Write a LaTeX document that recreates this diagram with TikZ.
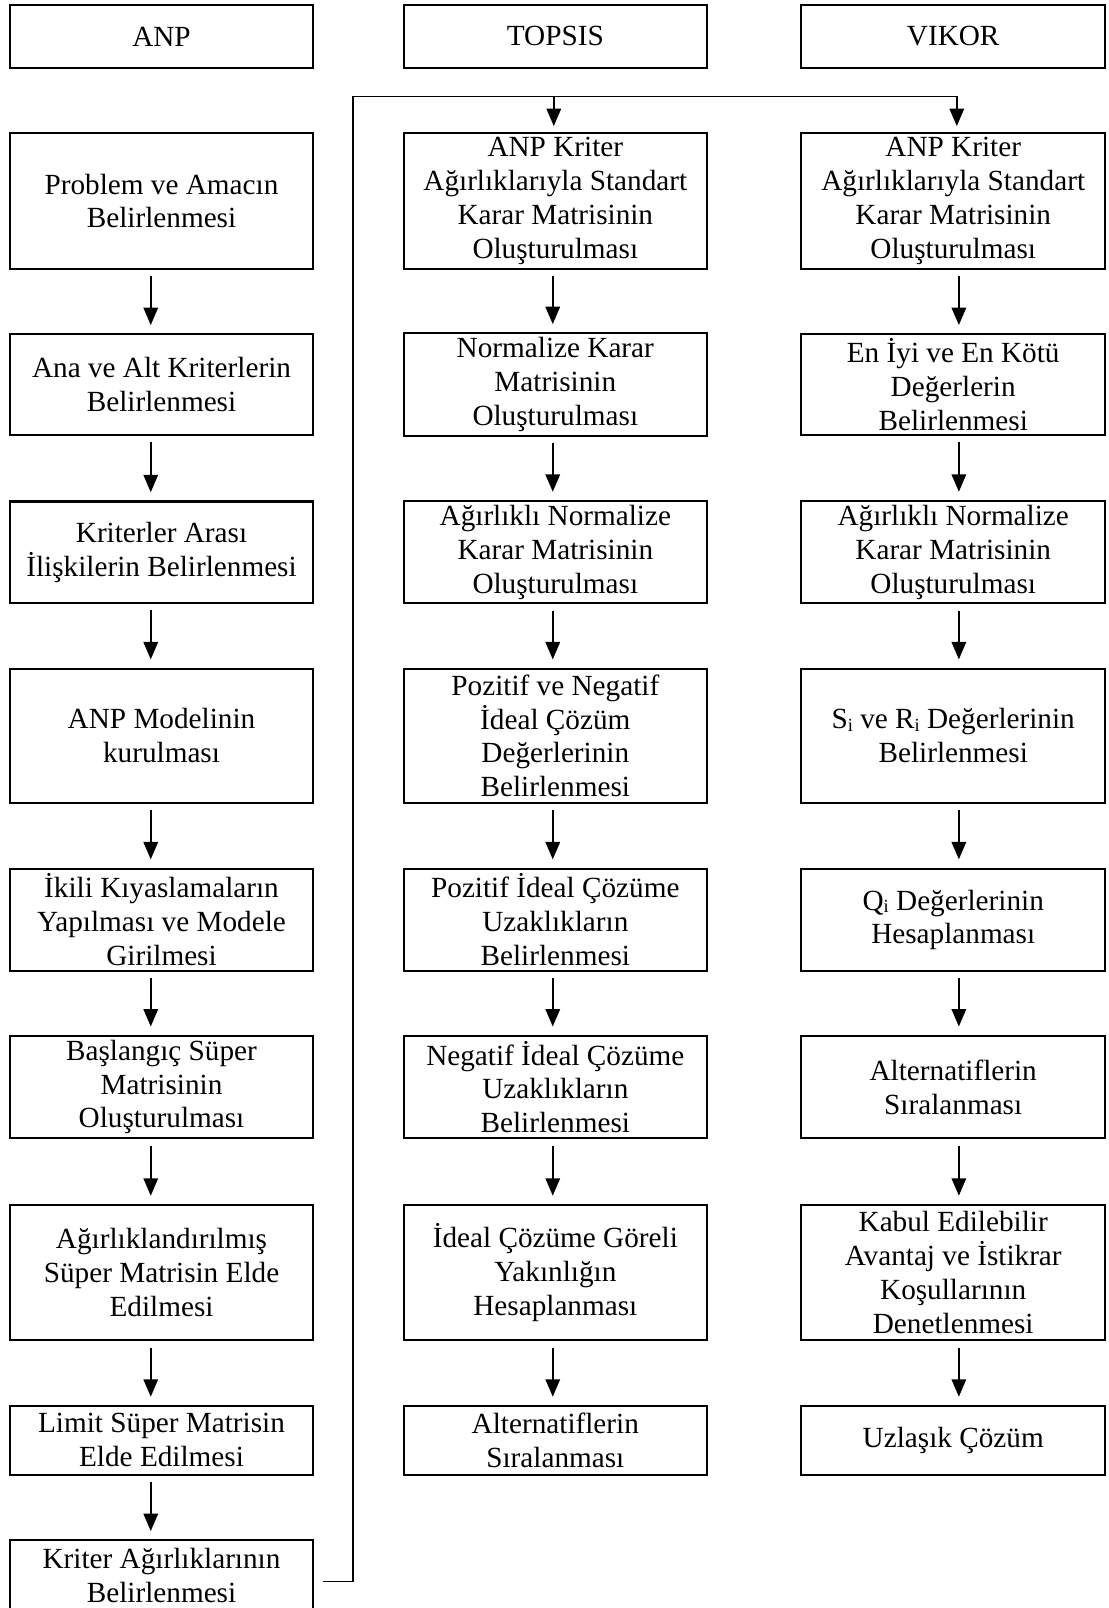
\documentclass[tikz,border=0pt]{standalone}
\usepackage{fontspec}
\setmainfont{Liberation Serif}
\usetikzlibrary{arrows.meta}
% small lowered index letter
\newcommand{\idx}[1]{\raisebox{-0.2ex}{\fontsize{9}{9}\selectfont #1}}
\begin{document}
\begin{tikzpicture}[x=0.5pt,y=-0.5pt,
  stepbox/.style={draw, line width=1pt, minimum width=148pt, inner sep=2pt,
    align=center, font=\fontsize{14.25}{16.5}\selectfont},
  arr/.style={line width=1pt, -{Triangle[length=8.5pt,width=7pt]}},
  link/.style={line width=0.8pt}]
\useasboundingbox (0,0) rectangle (1081,1568);
\clip (0,0) rectangle (1081,1568);

% column headers
\node[stepbox, minimum height=30.5pt] (hA) at (157.5,35.5) {ANP};
\node[stepbox, minimum height=30.5pt] (hT) at (541.5,35.5) {TOPSIS};
\node[stepbox, minimum height=30.5pt] (hV) at (929.5,35.5) {VIKOR};

% ANP steps
\node[stepbox, minimum height=66pt]   (a1) at (157.5,196)    {Problem ve Amacın\\Belirlenmesi};
\node[stepbox, minimum height=49pt]   (a2) at (157.5,375)    {Ana ve Alt Kriterlerin\\Belirlenmesi};
\node[stepbox, minimum height=49.5pt] (a3) at (157.5,538.5)  {Kriterler Arası\\İlişkilerin Belirlenmesi};
\node[stepbox, minimum height=65.5pt] (a4) at (157.5,717.5)  {ANP Modelinin\\kurulması};
\node[stepbox, minimum height=50pt]   (a5) at (157.5,897)    {İkili Kıyaslamaların\\Yapılması ve Modele\\Girilmesi};
\node[stepbox, minimum height=50pt]   (a6) at (157.5,1060)   {Başlangıç Süper\\Matrisinin\\Oluşturulması};
\node[stepbox, minimum height=66pt]   (a7) at (157.5,1241)   {Ağırlıklandırılmış\\Süper Matrisin Elde\\Edilmesi};
\node[stepbox, minimum height=33.5pt] (a8) at (157.5,1404.5) {Limit Süper Matrisin\\Elde Edilmesi};
\node[stepbox, minimum height=34.5pt] (a9) at (157.5,1536.5) {Kriter Ağırlıklarının\\Belirlenmesi};

% TOPSIS steps
\node[stepbox, minimum height=66pt]   (t1) at (541.5,196)    {ANP Kriter\\Ağırlıklarıyla Standart\\Karar Matrisinin\\Oluşturulması};
\node[stepbox, minimum height=49pt]   (t2) at (541.5,375)    {Normalize Karar\\Matrisinin\\Oluşturulması};
\node[stepbox, minimum height=49.5pt] (t3) at (541.5,538.5)  {Ağırlıklı Normalize\\Karar Matrisinin\\Oluşturulması};
\node[stepbox, minimum height=65.5pt] (t4) at (541.5,717.5)  {Pozitif ve Negatif\\İdeal Çözüm\\Değerlerinin\\Belirlenmesi};
\node[stepbox, minimum height=50pt]   (t5) at (541.5,897)    {Pozitif İdeal Çözüme\\Uzaklıkların\\Belirlenmesi};
\node[stepbox, minimum height=50pt]   (t6) at (541.5,1060)   {Negatif İdeal Çözüme\\Uzaklıkların\\Belirlenmesi};
\node[stepbox, minimum height=66pt]   (t7) at (541.5,1241)   {İdeal Çözüme Göreli\\Yakınlığın\\Hesaplanması};
\node[stepbox, minimum height=33.5pt] (t8) at (541.5,1404.5) {Alternatiflerin\\Sıralanması};

% VIKOR steps
\node[stepbox, minimum height=66pt]   (v1) at (929.5,196)    {ANP Kriter\\Ağırlıklarıyla Standart\\Karar Matrisinin\\Oluşturulması};
\node[stepbox, minimum height=49pt]   (v2) at (929.5,375)    {En İyi ve En Kötü\\Değerlerin\\Belirlenmesi};
\node[stepbox, minimum height=49.5pt] (v3) at (929.5,538.5)  {Ağırlıklı Normalize\\Karar Matrisinin\\Oluşturulması};
\node[stepbox, minimum height=65.5pt] (v4) at (929.5,717.5)  {S\idx{i} ve R\idx{i} Değerlerinin\\Belirlenmesi};
\node[stepbox, minimum height=50pt]   (v5) at (929.5,897)    {Q\idx{i} Değerlerinin\\Hesaplanması};
\node[stepbox, minimum height=50pt]   (v6) at (929.5,1060)   {Alternatiflerin\\Sıralanması};
\node[stepbox, minimum height=66pt]   (v7) at (929.5,1241)   {Kabul Edilebilir\\Avantaj ve İstikrar\\Koşullarının\\Denetlenmesi};
\node[stepbox, minimum height=33.5pt] (v8) at (929.5,1404.5) {Uzlaşık Çözüm};

% arrows inside each column
\foreach \a/\b in {a1/a2,a2/a3,a3/a4,a4/a5,a5/a6,a6/a7,a7/a8,a8/a9}
  \draw[arr] ([xshift=-5.25pt,yshift=-3pt]\a.south) -- ([xshift=-5.25pt,yshift=4pt]\b.north);
\foreach \a/\b in {t1/t2,t2/t3,t3/t4,t4/t5,t5/t6,t6/t7,t7/t8}
  \draw[arr] ([xshift=-1.25pt,yshift=-3pt]\a.south) -- ([xshift=-1.25pt,yshift=4pt]\b.north);
\foreach \a/\b in {v1/v2,v2/v3,v3/v4,v4/v5,v5/v6,v6/v7,v7/v8}
  \draw[arr] ([xshift=2.75pt,yshift=-3pt]\a.south) -- ([xshift=2.75pt,yshift=4pt]\b.north);

% feedback of the criteria weights into TOPSIS and VIKOR
\coordinate (jb) at (344,1542);
\coordinate (jt) at (344,94);
\coordinate (jr) at (933,94);
\draw[link] ([xshift=4pt]a9.east |- jb) -- (jb) -- (jt) -- (jr);
\draw[arr] ([xshift=-0.75pt]t1.north |- jt) -- ([xshift=-0.75pt,yshift=3pt]t1.north);
\draw[arr] (jr) -- ([xshift=1.75pt,yshift=3pt]v1.north);
\end{tikzpicture}
\end{document}
